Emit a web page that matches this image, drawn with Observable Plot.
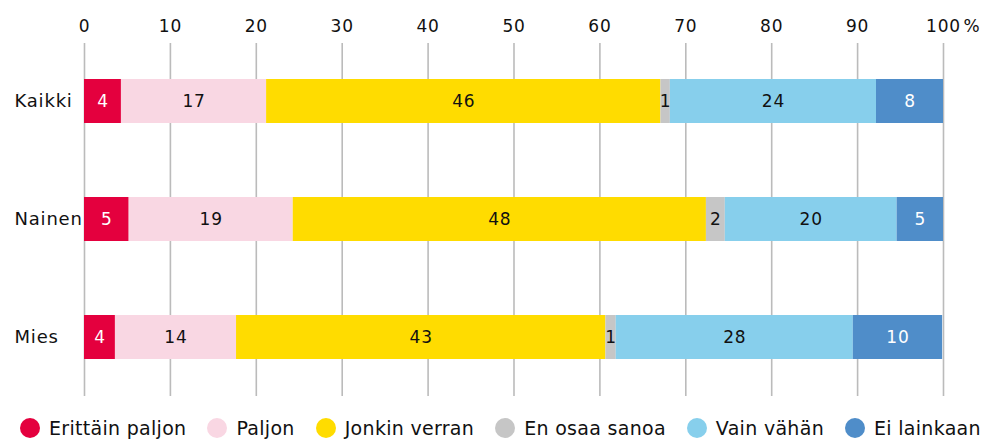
<!DOCTYPE html>
<html>
<head>
<meta charset="utf-8">
<script src="https://cdn.jsdelivr.net/npm/d3@7"></script>
<script src="https://cdn.jsdelivr.net/npm/@observablehq/plot@0.6"></script>
<style>
  html, body { margin: 0; padding: 0; background: #fff; overflow: hidden; }
  body { width: 993px; height: 439px; font-family: "DejaVu Sans", sans-serif; color: #111; }
  #chart svg { display: block; }
  #chart svg text { letter-spacing: 0.8px; }
  #legend { display: flex; align-items: center; padding: 18px 0 0 20px; height: 20px; }
  .item { display: flex; align-items: center; margin-right: 21px; font-size: 19px; line-height: 20px; white-space: nowrap; letter-spacing: 0.3px; }
  .sw { width: 20px; height: 20px; border-radius: 50%; margin-right: 9px; flex: none; }
</style>
</head>
<body>
<div id="chart"></div>
<div id="legend"></div>
<script>
const categories = ["Kaikki", "Nainen", "Mies"];
const series = ["Erittäin paljon", "Paljon", "Jonkin verran", "En osaa sanoa", "Vain vähän", "Ei lainkaan"];
const colors = ["#E4003E", "#F9D7E3", "#FFDC00", "#C6C6C6", "#87CFEC", "#4F8DC9"];
const kaikki = [4.3, 16.9, 45.9, 1.1, 24.0, 7.8];
const nainen = [5.2, 19.1, 48.1, 2.2, 20.0, 5.4];
const mies = [3.6, 14.1, 43.0, 1.2, 27.6, 10.4];
const tickValues = [0, 10, 20, 30, 40, 50, 60, 70, 80, 90, 100];
const whiteLabelSeries = ["Erittäin paljon", "Ei lainkaan"];

const rows = [kaikki, nainen, mies];
const data = [];
categories.forEach((g, i) => {
  series.forEach((s, j) => {
    data.push({group: g, cat: s, value: rows[i][j]});
  });
});

const font = "DejaVu Sans, sans-serif";

const chart = Plot.plot({
  width: 993,
  height: 400,
  marginTop: 43,
  marginBottom: 4,
  marginLeft: 84,
  marginRight: 50,
  style: {fontFamily: font, background: "#fff", color: "#111"},
  x: {domain: [0, 100], axis: null},
  y: {domain: categories, axis: null, paddingInner: 0.627, paddingOuter: 0.309},
  color: {domain: series, range: colors},
  marks: [
    Plot.ruleX(tickValues, {x: d => d, stroke: "#BBBBBB", strokeWidth: 1.6}),
    Plot.barX(data, Plot.stackX({x: "value", y: "group", fill: "cat"})),
    Plot.text(data, Plot.stackX({
      x: "value", y: "group",
      text: d => String(Math.round(d.value)),
      fill: d => whiteLabelSeries.includes(d.cat) ? "#ffffff" : "#111111",
      fontSize: 17, fontWeight: 500, lineAnchor: "middle"
    })),
    Plot.text(tickValues, {
      x: d => d, text: d => String(d), frameAnchor: "top", dy: -17,
      lineAnchor: "middle", fontSize: 17, fill: "#111"
    }),
    Plot.text([100], {
      x: d => d, text: () => "%", frameAnchor: "top", dy: -17, dx: 20,
      textAnchor: "start", lineAnchor: "middle", fontSize: 17, fill: "#111"
    }),
    Plot.text(categories, {
      y: d => d, text: d => d, frameAnchor: "left", dx: -70,
      textAnchor: "start", lineAnchor: "middle", fontSize: 18, fill: "#111"
    })
  ]
});
document.getElementById("chart").append(chart);

const legend = document.getElementById("legend");
series.forEach((s, i) => {
  const item = document.createElement("div");
  item.className = "item";
  const sw = document.createElement("span");
  sw.className = "sw";
  sw.style.background = colors[i];
  const label = document.createElement("span");
  label.textContent = s;
  item.append(sw, label);
  legend.append(item);
});
</script>
</body>
</html>
